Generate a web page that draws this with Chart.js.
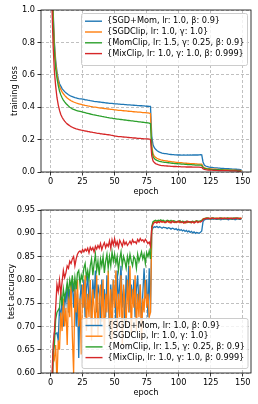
<!DOCTYPE html>
<html>
<head>
<meta charset="utf-8">
<script src="https://cdn.jsdelivr.net/npm/chart.js@4.4.1/dist/chart.umd.min.js"></script>
<style>
  body { margin: 0; background: #fff; }
  canvas { position: absolute; left: 0; }
</style>
</head>
<body>
<canvas id="lossChart" width="258" height="200" style="top:0"></canvas>
<canvas id="accChart" width="258" height="204" style="top:200px"></canvas>
<script>
const seriesNames = [
  "{SGD+Mom, lr: 1.0, β: 0.9}",
  "{SGDClip, lr: 1.0, γ: 1.0}",
  "{MomClip, lr: 1.5, γ: 0.25, β: 0.9}",
  "{MixClip, lr: 1.0, γ: 1.0, β: 0.999}",
];
const xTicks = [0, 25, 50, 75, 100, 125, 150];
const lossTicks = [0, 0.2, 0.4, 0.6, 0.8, 1.0];
const accTicks = [0.6, 0.65, 0.7, 0.75, 0.8, 0.85, 0.9, 0.95];

// training loss per epoch (0..149)
const sgdMomLoss = [
  2.10,1.35,1.00,0.80,0.69,0.62,0.575,0.545,0.530,0.515,
  0.505,0.496,0.489,0.483,0.477,0.472,0.468,0.465,0.462,0.459,
  0.457,0.455,0.453,0.452,0.451,0.450,0.448,0.446,0.445,0.443,
  0.442,0.440,0.439,0.438,0.436,0.435,0.434,0.433,0.432,0.431,
  0.430,0.429,0.428,0.427,0.426,0.425,0.424,0.424,0.423,0.422,
  0.421,0.421,0.420,0.419,0.419,0.418,0.417,0.417,0.416,0.416,
  0.415,0.414,0.414,0.413,0.413,0.412,0.411,0.411,0.410,0.410,
  0.409,0.409,0.408,0.408,0.407,0.406,0.406,0.405,0.405,0.220,
  0.168,0.150,0.140,0.133,0.127,0.123,0.120,0.117,0.115,0.113,
  0.113,0.112,0.110,0.109,0.108,0.107,0.107,0.106,0.106,0.105,
  0.105,0.105,0.104,0.104,0.105,0.104,0.104,0.105,0.104,0.105,
  0.104,0.105,0.106,0.105,0.106,0.105,0.106,0.107,0.106,0.062,
  0.043,0.037,0.034,0.032,0.030,0.029,0.028,0.027,0.026,0.026,
  0.025,0.024,0.024,0.023,0.022,0.022,0.021,0.021,0.020,0.020,
  0.019,0.019,0.018,0.018,0.017,0.017,0.016,0.016,0.015,0.015
];
const sgdClipLoss = [
  2.05,1.30,0.97,0.78,0.67,0.605,0.560,0.530,0.510,0.495,
  0.483,0.473,0.465,0.457,0.451,0.445,0.440,0.436,0.432,0.429,
  0.426,0.423,0.421,0.419,0.417,0.415,0.413,0.411,0.410,0.408,
  0.407,0.405,0.404,0.402,0.401,0.400,0.399,0.397,0.396,0.395,
  0.394,0.393,0.392,0.391,0.390,0.389,0.388,0.387,0.386,0.385,
  0.384,0.383,0.382,0.381,0.380,0.380,0.379,0.378,0.377,0.377,
  0.376,0.375,0.374,0.374,0.373,0.372,0.371,0.371,0.370,0.369,
  0.369,0.368,0.367,0.367,0.366,0.365,0.365,0.364,0.360,0.160,
  0.112,0.097,0.090,0.085,0.081,0.078,0.075,0.073,0.071,0.070,
  0.069,0.068,0.066,0.065,0.064,0.063,0.062,0.061,0.060,0.059,
  0.058,0.057,0.057,0.056,0.055,0.055,0.054,0.053,0.053,0.052,
  0.052,0.051,0.051,0.050,0.050,0.049,0.049,0.048,0.048,0.033,
  0.027,0.024,0.022,0.021,0.020,0.019,0.018,0.018,0.017,0.017,
  0.016,0.016,0.015,0.015,0.014,0.014,0.013,0.013,0.013,0.012,
  0.012,0.012,0.011,0.011,0.011,0.010,0.010,0.010,0.010,0.009
];
const momClipLoss = [
  2.00,1.25,0.93,0.74,0.64,0.580,0.535,0.500,0.476,0.458,
  0.444,0.433,0.423,0.415,0.407,0.400,0.395,0.390,0.386,0.383,
  0.380,0.378,0.376,0.374,0.372,0.370,0.368,0.366,0.364,0.362,
  0.360,0.358,0.356,0.354,0.353,0.351,0.349,0.348,0.346,0.345,
  0.343,0.342,0.340,0.339,0.337,0.336,0.334,0.333,0.332,0.330,
  0.329,0.328,0.327,0.326,0.325,0.324,0.323,0.322,0.321,0.320,
  0.319,0.318,0.317,0.316,0.315,0.314,0.313,0.312,0.311,0.310,
  0.309,0.308,0.307,0.306,0.305,0.304,0.303,0.302,0.298,0.140,
  0.095,0.083,0.076,0.072,0.069,0.066,0.064,0.062,0.061,0.060,
  0.059,0.058,0.057,0.056,0.055,0.054,0.053,0.052,0.052,0.051,
  0.050,0.050,0.049,0.048,0.048,0.047,0.047,0.046,0.046,0.045,
  0.045,0.044,0.044,0.043,0.043,0.043,0.042,0.042,0.041,0.028,
  0.023,0.021,0.019,0.018,0.017,0.016,0.016,0.015,0.015,0.015,
  0.014,0.014,0.013,0.013,0.013,0.012,0.012,0.012,0.011,0.011,
  0.011,0.011,0.010,0.010,0.010,0.010,0.009,0.009,0.009,0.009
];
const mixClipLoss = [
  1.90,1.05,0.78,0.62,0.53,0.460,0.415,0.380,0.355,0.338,
  0.325,0.314,0.305,0.297,0.291,0.285,0.280,0.276,0.272,0.269,
  0.266,0.264,0.262,0.260,0.258,0.257,0.255,0.253,0.252,0.250,
  0.249,0.247,0.246,0.244,0.243,0.242,0.240,0.239,0.238,0.236,
  0.235,0.234,0.233,0.232,0.231,0.230,0.229,0.227,0.226,0.224,
  0.222,0.221,0.220,0.219,0.218,0.218,0.217,0.216,0.215,0.215,
  0.214,0.213,0.212,0.212,0.211,0.210,0.210,0.209,0.208,0.208,
  0.207,0.206,0.206,0.205,0.205,0.205,0.204,0.203,0.201,0.100,
  0.068,0.058,0.052,0.048,0.045,0.043,0.041,0.040,0.039,0.038,
  0.038,0.037,0.036,0.036,0.035,0.035,0.034,0.034,0.034,0.033,
  0.033,0.033,0.032,0.032,0.032,0.032,0.031,0.031,0.031,0.031,
  0.031,0.030,0.030,0.030,0.030,0.030,0.030,0.029,0.029,0.020,
  0.016,0.014,0.013,0.012,0.012,0.011,0.011,0.010,0.010,0.010,
  0.010,0.009,0.009,0.009,0.009,0.008,0.008,0.008,0.008,0.008,
  0.007,0.007,0.007,0.007,0.007,0.007,0.006,0.006,0.006,0.006
];

// test accuracy per epoch (0..149)
const sgdMomAcc = [
  0.35,0.55,0.62,0.685,0.684,0.686,0.67,0.74,0.72,0.76,
  0.70,0.77,0.75,0.79,0.73,0.78,0.76,0.80,0.74,0.79,
  0.70,0.77,0.632,0.76,0.79,0.74,0.80,0.72,0.78,0.81,
  0.75,0.79,0.71,0.80,0.76,0.82,0.73,0.79,0.77,0.70,
  0.80,0.75,0.78,0.72,0.81,0.76,0.69,0.79,0.74,0.80,
  0.77,0.71,0.82,0.75,0.79,0.83,0.74,0.78,0.70,0.81,
  0.76,0.83,0.73,0.79,0.75,0.80,0.72,0.78,0.81,0.74,
  0.79,0.70,0.77,0.825,0.76,0.80,0.72,0.825,0.73,0.905,
  0.912,0.914,0.913,0.915,0.912,0.914,0.913,0.911,0.913,0.912,
  0.912,0.910,0.912,0.911,0.909,0.911,0.910,0.908,0.910,0.907,
  0.909,0.906,0.908,0.905,0.907,0.904,0.906,0.903,0.905,0.902,
  0.904,0.901,0.903,0.900,0.902,0.901,0.900,0.902,0.905,0.925,
  0.929,0.930,0.931,0.930,0.931,0.930,0.931,0.930,0.931,0.930,
  0.930,0.931,0.930,0.929,0.931,0.930,0.931,0.930,0.930,0.929,
  0.931,0.930,0.930,0.931,0.929,0.930,0.931,0.930,0.930,0.931
];
const sgdClipAcc = [
  0.30,0.50,0.64,0.63,0.66,0.58,0.67,0.65,0.73,0.69,
  0.76,0.70,0.74,0.66,0.77,0.72,0.79,0.68,0.60,0.78,
  0.73,0.80,0.70,0.76,0.64,0.79,0.74,0.81,0.69,0.77,
  0.72,0.80,0.67,0.78,0.74,0.70,0.81,0.68,0.76,0.79,
  0.71,0.80,0.66,0.77,0.73,0.82,0.70,0.78,0.67,0.80,
  0.74,0.82,0.69,0.77,0.72,0.81,0.66,0.79,0.75,0.70,
  0.80,0.73,0.83,0.68,0.78,0.74,0.81,0.69,0.77,0.72,
  0.79,0.67,0.76,0.73,0.80,0.74,0.77,0.72,0.73,0.910,
  0.922,0.925,0.927,0.926,0.925,0.927,0.926,0.924,0.926,0.925,
  0.924,0.926,0.925,0.923,0.925,0.926,0.924,0.925,0.923,0.925,
  0.924,0.926,0.923,0.925,0.924,0.922,0.925,0.923,0.924,0.925,
  0.923,0.925,0.924,0.926,0.925,0.924,0.926,0.925,0.927,0.931,
  0.932,0.932,0.933,0.932,0.931,0.932,0.933,0.932,0.931,0.932,
  0.933,0.932,0.931,0.932,0.933,0.932,0.932,0.931,0.932,0.933,
  0.932,0.931,0.932,0.932,0.933,0.932,0.931,0.932,0.933,0.932
];
const momClipAcc = [
  0.40,0.56,0.645,0.66,0.715,0.73,0.735,0.74,0.775,0.745,
  0.78,0.76,0.775,0.795,0.77,0.80,0.785,0.81,0.775,0.805,
  0.78,0.815,0.82,0.79,0.81,0.80,0.825,0.835,0.805,0.82,
  0.80,0.83,0.845,0.81,0.835,0.855,0.82,0.84,0.81,0.845,
  0.83,0.85,0.815,0.84,0.855,0.825,0.85,0.83,0.86,0.84,
  0.855,0.835,0.85,0.82,0.845,0.86,0.83,0.85,0.84,0.825,
  0.85,0.835,0.855,0.84,0.83,0.85,0.845,0.825,0.855,0.84,
  0.85,0.86,0.845,0.855,0.835,0.858,0.85,0.862,0.845,0.915,
  0.925,0.927,0.928,0.926,0.928,0.927,0.929,0.927,0.928,0.926,
  0.926,0.928,0.927,0.926,0.928,0.925,0.927,0.926,0.924,0.926,
  0.925,0.927,0.924,0.926,0.925,0.923,0.926,0.924,0.925,0.923,
  0.925,0.926,0.924,0.925,0.927,0.926,0.925,0.927,0.928,0.930,
  0.931,0.932,0.933,0.932,0.932,0.931,0.932,0.933,0.932,0.932,
  0.932,0.931,0.932,0.933,0.932,0.932,0.931,0.932,0.933,0.932,
  0.932,0.931,0.932,0.933,0.932,0.932,0.933,0.932,0.931,0.932
];
const mixClipAcc = [
  0.45,0.58,0.66,0.69,0.74,0.79,0.775,0.80,0.77,0.795,
  0.82,0.805,0.815,0.83,0.825,0.84,0.835,0.845,0.85,0.83,
  0.845,0.855,0.86,0.862,0.858,0.865,0.86,0.866,0.862,0.868,
  0.858,0.87,0.864,0.869,0.86,0.872,0.866,0.874,0.868,0.878,
  0.865,0.874,0.88,0.869,0.877,0.872,0.884,0.868,0.886,0.875,
  0.888,0.874,0.882,0.87,0.885,0.879,0.872,0.884,0.876,0.881,
  0.874,0.878,0.883,0.877,0.886,0.88,0.882,0.878,0.887,0.882,
  0.889,0.884,0.886,0.881,0.887,0.883,0.878,0.881,0.872,0.912,
  0.920,0.923,0.924,0.922,0.925,0.923,0.926,0.924,0.925,0.923,
  0.923,0.926,0.924,0.925,0.922,0.926,0.924,0.923,0.925,0.924,
  0.926,0.923,0.925,0.924,0.922,0.925,0.923,0.926,0.924,0.925,
  0.923,0.925,0.922,0.924,0.926,0.923,0.925,0.924,0.926,0.929,
  0.931,0.932,0.931,0.933,0.932,0.931,0.933,0.932,0.932,0.932,
  0.931,0.932,0.933,0.932,0.931,0.932,0.933,0.932,0.932,0.931,
  0.932,0.933,0.932,0.931,0.932,0.933,0.932,0.932,0.931,0.933
];

const colors = ["#1f77b4", "#ff7f0e", "#2ca02c", "#d62728"];
const FONT_SIZE = 8.2;
const FONT = FONT_SIZE + "px 'DejaVu Sans'";

Chart.defaults.font.family = "'DejaVu Sans'";
Chart.defaults.font.size = FONT_SIZE;
Chart.defaults.color = "#000";

// frame, axis titles and legend drawn like matplotlib
const mplPlugin = {
  id: "mpl",
  afterDraw(chart, args, opts) {
    const { ctx, chartArea: a } = chart;
    ctx.save();
    ctx.strokeStyle = "#000";
    ctx.lineWidth = 0.8;
    ctx.strokeRect(a.left, a.top, a.right - a.left, a.bottom - a.top);

    ctx.fillStyle = "#000";
    ctx.font = FONT;
    ctx.textAlign = "center";
    ctx.textBaseline = "middle";
    ctx.fillText(opts.xTitle, (a.left + a.right) / 2, opts.xTitleY);
    ctx.save();
    ctx.translate(opts.yTitleX, (a.top + a.bottom) / 2);
    ctx.rotate(-Math.PI / 2);
    ctx.fillText(opts.yTitle, 0, 0);
    ctx.restore();

    // legend
    const b = opts.box;
    ctx.beginPath();
    ctx.roundRect(b.x + 0.5, b.y + 0.5, b.w, b.h, 2);
    ctx.fillStyle = "rgba(255,255,255,0.8)";
    ctx.fill();
    ctx.strokeStyle = "#cccccc";
    ctx.lineWidth = 1;
    ctx.stroke();
    ctx.textAlign = "left";
    chart.data.datasets.forEach((ds, i) => {
      const y = opts.rowY[i];
      ctx.strokeStyle = ds.borderColor;
      ctx.lineWidth = 1.4;
      ctx.beginPath();
      ctx.moveTo(b.x + 4, y);
      ctx.lineTo(b.x + 21, y);
      ctx.stroke();
      ctx.fillStyle = "#000";
      ctx.fillText(ds.label, b.x + 26, y);
    });
    ctx.restore();
  },
};

function makeDatasets(series) {
  return series.map((vals, i) => ({
    label: seriesNames[i],
    data: vals.map((v, e) => ({ x: e, y: v })),
    borderColor: colors[i],
    borderWidth: 1.3,
    pointRadius: 0,
    tension: 0,
    fill: false,
    order: 4 - i,
  }));
}

function makeChart(id, series, yTicks, yMin, yMax, yDigits, xAxisH, padTop, mpl) {
  return new Chart(document.getElementById(id), {
    type: "line",
    data: { datasets: makeDatasets(series) },
    options: {
      responsive: false,
      animation: false,
      devicePixelRatio: 1,
      layout: { padding: { top: padTop, right: 7, left: 0, bottom: 0 } },
      plugins: { legend: { display: false }, tooltip: { enabled: false }, mpl: mpl },
      scales: {
        x: {
          type: "linear",
          min: -7.45,
          max: 156.45,
          afterBuildTicks: (s) => { s.ticks = xTicks.map((v) => ({ value: v })); },
          afterFit: (s) => { s.height = xAxisH; },
          ticks: { autoSkip: false, maxRotation: 0, padding: 1.5, color: "#000", callback: (v) => v },
          grid: { color: "#b0b0b0", lineWidth: 0.8, tickLength: 3.5, tickColor: "#000", tickWidth: 0.8 },
          border: { display: false, dash: [3, 2] },
        },
        y: {
          min: yMin,
          max: yMax,
          afterBuildTicks: (s) => { s.ticks = yTicks.map((v) => ({ value: v })); },
          afterFit: (s) => { s.width = 41; },
          ticks: { autoSkip: false, padding: 2.5, color: "#000", callback: (v) => Number(v).toFixed(yDigits) },
          grid: { color: "#b0b0b0", lineWidth: 0.8, tickLength: 3.5, tickColor: "#000", tickWidth: 0.8 },
          border: { display: false, dash: [3, 2] },
        },
      },
    },
    plugins: [mplPlugin],
  });
}

makeChart("lossChart", [sgdMomLoss, sgdClipLoss, momClipLoss, mixClipLoss],
  lossTicks, 0, 1, 1, 28, 10, {
    xTitle: "epoch", xTitleY: 192, yTitle: "training loss", yTitleX: 15,
    box: { x: 81, y: 13, w: 166, h: 52 }, rowY: [21.2, 32, 42.8, 53.6],
  });

makeChart("accChart", [sgdMomAcc, sgdClipAcc, momClipAcc, mixClipAcc],
  accTicks, 0.6, 0.95, 2, 31, 10, {
    xTitle: "epoch", xTitleY: 193.3, yTitle: "test accuracy", yTitleX: 11.5,
    box: { x: 81.5, y: 118, w: 166, h: 50 }, rowY: [125.5, 136.2, 146.9, 157.6],
  });
</script>
</body>
</html>
